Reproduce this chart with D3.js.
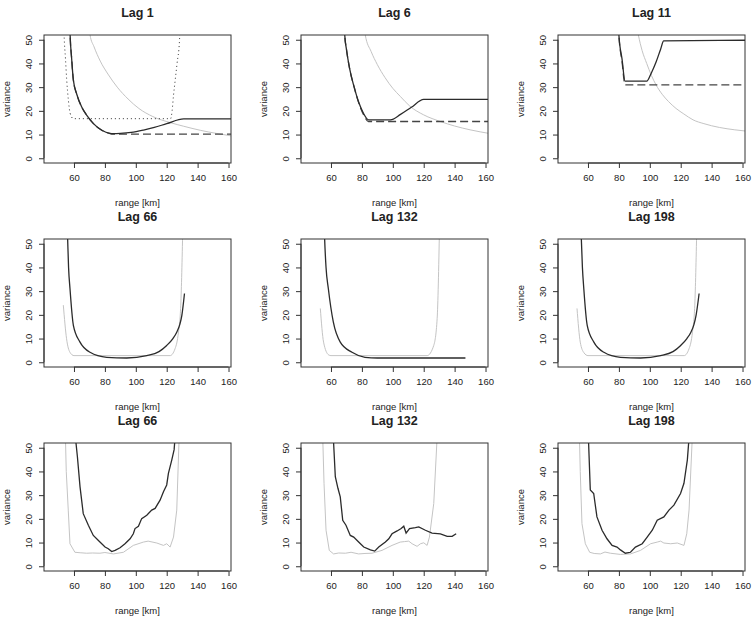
<!DOCTYPE html>
<meta charset="utf-8">
<html lang="en">
  <head>
    <style>
      body { margin: 0; background-color: #fff; }
      text { font-family: "Liberation Sans", Arial, sans-serif; fill: #222; }
      .tick text { font-size: 9.5px; }
      .lab { font-size: 9.5px; }
      .title { font-size: 12.5px; font-weight: bold; }
      .frame { fill: none; stroke: #333; stroke-width: 1; }
      .solid { fill: none; stroke: #2b2b2b; stroke-width: 1.3px; }
      .dashed { fill: none; stroke: #444; stroke-width: 1.3px; stroke-dasharray: 8,4; }
      .dotted { fill: none; stroke: #333; stroke-width: 1px; stroke-dasharray: 1,3; }
      .gray { fill: none; stroke: #c4c4c4; stroke-width: 1px; }
    </style>
  </head>
  <body>

    <script src="https://cdn.jsdelivr.net/npm/d3@7"></script>

    <svg></svg>

    <script>

      // panel titles
      var titles = ["Lag  1", "Lag  6", "Lag  11",
                    "Lag  66", "Lag  132", "Lag  198",
                    "Lag  66", "Lag  132", "Lag  198"];

      var xTicks = [60, 80, 100, 120, 140, 160];
      var yTicks = [0, 10, 20, 30, 40, 50];

      // [range km, variance] pairs

      // Lag 1
      var lag1Solid = [[57.3,56],[57.5,52],[58.5,42],[59.6,33],[61.8,27],[65,21.6],[68.3,18.1],[72.6,14.6],[78,11.8],[83.4,10.5],[85.3,10.4],
                       [90,10.5],[97,10.9],[105,11.9],[112,13],[120,14.6],[131,16.6],[163,16.6]];
      var lag1Dashed = [[57.3,56],[57.5,52],[58.5,42],[59.6,33],[61.8,27],[65,21.6],[68.3,18.1],[72.6,14.6],[78,11.8],[83.4,10.4],[85,10.2],[163,10.2]];
      var lag1Dotted = [[53.4,56],[53.6,52],[54.5,42],[55.3,33],[56.4,24.4],[57.5,19],[59.6,16.7],[122.5,16.7],[123.5,20],[124.4,26.5],
                        [125.5,33],[126.7,40],[128.3,50],[128.7,56]];
      var lag1Gray = [[70,54],[70.4,52],[73,47],[77,41],[82,35.5],[88,30],[95,25],[102,21],[111,17.6],[122.5,15],[131,13.5],[141.7,11.8],
                      [152,10.5],[163,9.3]];

      // Lag 6
      var lag6Solid = [[68.7,56],[68.9,52],[70,46],[72,38],[75,30],[78,23.5],[81,19],[84.4,16.2],[98.4,16.2],[105,18.5],[112,21.5],[120,24.8],[163,24.8]];
      var lag6Dashed = [[68.7,56],[68.9,52],[70,46],[72,38],[75,30],[78,23.3],[81,18.5],[84.2,15.5],[163,15.5]];
      var lag6Gray = [[81.8,54],[82.2,52],[86,45],[90,39.5],[95,34],[100,29.5],[105,26],[111,22],[120,18.3],[130.8,15.5],[140,13.6],
                      [150,12],[163,10.4]];

      // Lag 11
      var lag11Solid = [[79.8,56],[80,52],[82,42],[84,32.5],[98,32.5],[101,36],[104,40.5],[107,46],[109,49.5],[163,49.8]];
      var lag11Dashed = [[79.8,56],[80,52],[82,41],[84,31],[163,31]];
      var lag11Gray = [[92,54],[92.6,52],[95,45.5],[98,40],[101,35],[104,31],[108,27],[112,24],[117,21],[122,18.7],[128,16.2],
                       [135,14.6],[145,13],[155,12],[163,11.4]];

      // Lag 66 (smooth)
      var lag66Solid = [[55.7,56],[55.9,52],[56.5,40],[57.4,31.2],[59.6,15.6],[63.9,8.5],[70.4,4.2],[81.2,2.1],[94.1,1.8],[107.1,2.8],
                        [115,4.5],[120,7.1],[124,10],[126.5,12.7],[128.5,16],[129.8,19.8],[131.5,29]];
      var lag66Gray = [[53.1,24.1],[55.2,9.9],[57.4,4.2],[60,2.8],[122.2,2.8],[125.4,5.7],[127.6,12.7],[129.1,24.1],[130.4,56]];

      // Lag 132 (smooth)
      var lag132Solid = [[55.7,56],[55.9,52],[56.8,40],[58.3,31],[61.5,17],[66,8.5],[73.6,4.2],[82,2.1],[90,1.8],[147,1.8]];
      var lag132Gray = [[53.1,22.7],[55.2,8.5],[58.5,3.1],[60,2.8],[122.2,2.8],[126.5,7.1],[128.7,18.4],[130.2,56]];

      // Lag 198 (smooth)
      var lag198Solid = [[55.5,56],[55.7,52],[56.4,40],[57.3,31],[59.5,15.6],[63.8,8.5],[70.3,4.2],[81,2.1],[94,1.8],[107,2.8],
                         [115,4.5],[120,7.1],[124,10],[126.6,12.7],[128.6,16],[130,20],[131.9,29]];
      var lag198Gray = [[52.9,22.7],[55,8.5],[57.4,4],[60,2.8],[122.2,2.8],[125.4,5.7],[127.6,12.7],[129.1,24.1],[130.4,56]];

      // Lag 66 (noisy)
      var lag66nSolid = [[61,56],[61.3,52],[62.2,46.3],[63.9,33.6],[66,22.2],[69.3,17.3],[72.5,13],[76.8,10.2],[80.1,8.1],[82.2,7.4],
                         [84.4,6.2],[86.6,6.7],[89.8,7.8],[93,9.5],[96.3,11.6],[98.4,13.7],[99.5,15.9],[101.7,16.9],[103.8,20.1],
                         [107.1,21.5],[110.3,23.7],[112.5,24.4],[115.7,27.9],[117.9,31.4],[120,34.3],[121.1,39.2],[123.3,44.9],
                         [124.8,49.2],[125.6,56]];
      var lag66nGray = [[54.4,56],[55,40],[56.3,23.7],[57.4,9.5],[60.6,5.9],[64,5.7],[68.2,5.5],[72,5.6],[76.8,5.5],[80,5.8],[85.5,5.2],
                        [92,5.9],[98.4,8.8],[104.9,10.2],[108,10.6],[113.6,9.8],[117.9,8.8],[120,9.5],[122.2,8.1],[124.4,12.3],
                        [126.5,23.7],[128.1,56]];

      // Lag 132 (noisy)
      var lag132nSolid = [[61.5,56],[61.7,52],[62.8,37.8],[64.5,32.9],[66,29.3],[67.6,19.4],[69.7,17.3],[72.5,13],[74.7,12.3],[77.9,10.2],
                          [81.2,8.1],[85.5,6.9],[88.3,6.4],[90.9,8.1],[95.2,10.2],[97.4,11.6],[99.5,13.7],[102.8,14.9],[105.4,15.9],
                          [107.1,16.9],[108.6,14],[110.8,15.9],[114.6,16.3],[116.8,16.6],[121.1,15.2],[125.4,14],[130.8,13.7],
                          [135.2,12.6],[138.4,12.6],[141,13.7]];
      var lag132nGray = [[54.6,56],[55.5,35],[56.8,15.2],[58.9,6.7],[61.7,5.2],[65,5.6],[69.3,5.5],[73,5.9],[77.9,5.2],[82,5.4],[86.6,5.5],
                         [93,6.7],[99.5,8.8],[104.8,10.2],[107.5,10.4],[110.3,10.6],[112.5,9.5],[115.7,8.4],[117.9,9.5],[120,9.9],
                         [122.2,8.8],[123.7,12.3],[126.5,26.5],[128.8,56]];

      // Lag 198 (noisy)
      var lag198nSolid = [[60.3,56],[60.4,52],[61.5,32.2],[63.7,30.7],[65.8,20.8],[69.1,15.2],[72.3,11.6],[75.6,8.8],[78.8,8.1],[81,6.9],
                          [84.2,5.5],[87.5,5.9],[90.7,8.1],[95.1,9.5],[98.3,12.3],[101.6,15.2],[104.8,19.4],[109.1,20.8],[112.4,23.7],
                          [115.6,25.8],[119.9,30.7],[122.1,35],[124.3,44.9],[125.6,56]];
      var lag198nGray = [[54.4,56],[55,40],[56.1,18],[58.3,9.5],[61.1,5.9],[64,5.4],[68,5.2],[71,6],[74.5,5.5],[81,5],[87.5,5.2],[94,6.7],
                         [100.5,9.5],[104.8,10.2],[107,10.6],[109.1,9.8],[113.5,9.5],[117.8,9.8],[122.1,8.8],[123.9,13.7],
                         [125.4,23.7],[127.6,56]];

      var panels = [
        [{d: lag1Gray, c: "gray"}, {d: lag1Dotted, c: "dotted"}, {d: lag1Dashed, c: "dashed"}, {d: lag1Solid, c: "solid"}],
        [{d: lag6Gray, c: "gray"}, {d: lag6Dashed, c: "dashed"}, {d: lag6Solid, c: "solid"}],
        [{d: lag11Gray, c: "gray"}, {d: lag11Dashed, c: "dashed"}, {d: lag11Solid, c: "solid"}],
        [{d: lag66Gray, c: "gray"}, {d: lag66Solid, c: "solid"}],
        [{d: lag132Gray, c: "gray"}, {d: lag132Solid, c: "solid"}],
        [{d: lag198Gray, c: "gray"}, {d: lag198Solid, c: "solid"}],
        [{d: lag66nGray, c: "gray"}, {d: lag66nSolid, c: "solid"}],
        [{d: lag132nGray, c: "gray"}, {d: lag132nSolid, c: "solid"}],
        [{d: lag198nGray, c: "gray"}, {d: lag198nSolid, c: "solid"}]
      ];

      var width = 756, height = 627;
      var pw = 187, ph = 128;

      var svg = d3.select("svg")
        .attr("width", width)
        .attr("height", height);

      var xScale = d3.scaleLinear().domain([40.6, 161.6]).range([0, pw]);
      var yScale = d3.scaleLinear().domain([-2, 52]).range([ph, 0]);

      // first two rows are smooth model curves, last row is raw estimates
      var smoothLine = d3.line()
        .curve(d3.curveMonotoneX)
        .x(function(d) { return xScale(d[0]); })
        .y(function(d) { return yScale(d[1]); });
      var rawLine = d3.line()
        .x(function(d) { return xScale(d[0]); })
        .y(function(d) { return yScale(d[1]); });

      panels.forEach(function(series, i) {
        var col = i % 3, row = Math.floor(i / 3);
        var left = 44 + 257 * col, top = 35 + 204 * row;
        var line = row < 2 ? smoothLine : rawLine;

        var g = svg.append("g").attr("transform", "translate(" + left + "," + top + ")");

        g.append("clipPath").attr("id", "clip" + i)
          .append("rect").attr("width", pw).attr("height", ph);

        var plot = g.append("g").attr("clip-path", "url(#clip" + i + ")");
        series.forEach(function(s) {
          plot.append("path").attr("class", s.c).attr("d", line(s.d));
        });

        g.append("rect").attr("class", "frame").attr("width", pw).attr("height", ph);

        var xAxis = g.append("g").attr("transform", "translate(0," + ph + ")")
          .call(d3.axisBottom(xScale).tickValues(xTicks).tickSize(5).tickPadding(6));
        var yAxis = g.append("g")
          .call(d3.axisLeft(yScale).tickValues(yTicks).tickSize(5).tickPadding(3));
        [xAxis, yAxis].forEach(function(a) {
          a.select(".domain").attr("stroke", "#333");
          a.selectAll(".tick line").attr("stroke", "#333");
        });
        // R style: axis line only spans first to last tick
        xAxis.select(".domain").attr("d", "M" + xScale(60) + ",0H" + xScale(160));
        yAxis.select(".domain").attr("d", "M0," + yScale(0) + "V" + yScale(50));
        yAxis.selectAll(".tick text")
          .attr("x", null).attr("dy", null)
          .attr("text-anchor", "middle")
          .attr("transform", "translate(-12,0) rotate(-90)")
          .attr("dy", "0em");

        g.append("text").attr("class", "title")
          .attr("x", pw / 2).attr("y", -18)
          .attr("text-anchor", "middle")
          .text(titles[i]);

        g.append("text").attr("class", "lab")
          .attr("x", pw / 2).attr("y", ph + 43)
          .attr("text-anchor", "middle")
          .text("range [km]");

        g.append("text").attr("class", "lab")
          .attr("transform", "translate(-34," + (ph / 2) + ") rotate(-90)")
          .attr("text-anchor", "middle")
          .text("variance");
      });

    </script>

  </body>
</html>
